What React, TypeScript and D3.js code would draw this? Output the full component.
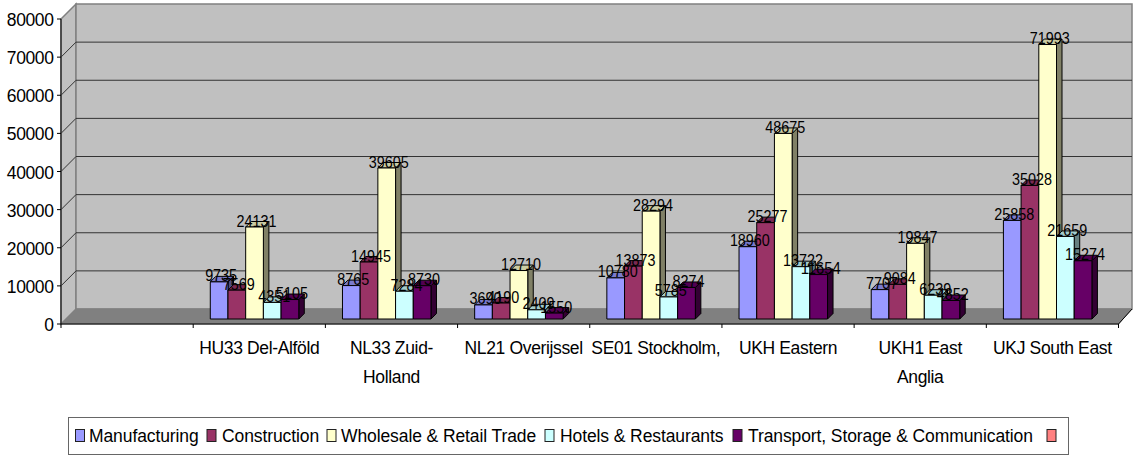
import React from "react";
import * as d3 from "d3";

const categories = ["", "HU33 Del-Alföld", "NL33 Zuid-Holland", "NL21 Overijssel", "SE01 Stockholm,", "UKH Eastern", "UKH1 East Anglia", "UKJ South East"];
const seriesNames = ["Manufacturing", "Construction", "Wholesale & Retail Trade", "Hotels & Restaurants", "Transport, Storage & Communication", ""];
const fills = ["#9999ff", "#993366", "#ffffcc", "#ccffff", "#660066", "#ff8080"];
const manufacturing = [null, 9735, 8765, 3690, 10780, 18960, 7707, 25858];
const construction = [null, 7569, 14945, 4190, 13873, 25277, 9084, 35028];
const wholesale = [null, 24131, 39605, 12710, 28294, 48675, 19847, 71993];
const hotels = [null, 4351, 7284, 2409, 5785, 13722, 6239, 21659];
const transport = [null, 5105, 8730, 1550, 8274, 11654, 4852, 15274];
const series = [manufacturing, construction, wholesale, hotels, transport];
const yTicks = d3.range(0, 80001, 10000);

// category label lines, the wrapped ones as in the picture
const labelLines: Record<string, string[]> = {
    "NL33 Zuid-Holland": ["NL33 Zuid-", "Holland"],
    "UKH1 East Anglia": ["UKH1 East", "Anglia"],
};

const FONT = "Liberation Sans, Arial, sans-serif";
const FONT_SIZE = 17.5;
const left = 61;
const right = 1118.5;
const wallRight = 1132;
const bottom = 324;
const top = 19;
const depth = 15;
const barDepth = 5.5;
const barInset = 5;

const x = d3.scaleBand<string>().domain(categories).range([left, right]);
const inner = d3.scaleBand<number>().domain(d3.range(5)).range([0, 88.5]);
const y = d3.scaleLinear([0, 80000], [bottom, top]);

const shade = (c: string, k: number) => {
    const { r, g, b } = d3.rgb(c);
    return d3.rgb(r * k, g * k, b * k).formatHex();
};

const Bar: React.FC<{ x0: number; value: number; fill: string }> = ({ x0, value, fill }) => {
    const w = inner.bandwidth();
    const base = bottom - barInset;
    const t = base - (bottom - y(value));
    const d = barDepth;
    return (
        <g stroke="#000" strokeWidth={1} strokeLinejoin="round">
            <path d={`M${x0 + w},${t}L${x0 + w + d},${t - d}V${base - d}L${x0 + w},${base}Z`} fill={shade(fill, 0.5)} />
            <path d={`M${x0},${t}L${x0 + d},${t - d}H${x0 + w + d}L${x0 + w},${t}Z`} fill={shade(fill, 0.8)} />
            <rect x={x0} y={t} width={w} height={base - t} fill={fill} />
        </g>
    );
};

const legendSwatchX = [75.5, 207, 327, 545, 733, 1047];
const legendTextX = [89, 222, 341, 560, 748];

export default function App() {
    return (
        <svg
            width={1133}
            height={455}
            style={{ position: "absolute", top: 0, left: 0, background: "#fff" }}
            fontFamily={FONT}
            fontSize={FONT_SIZE}
        >
            {/* walls and floor */}
            <path d={`M${left},${top}L${left + depth},${top - depth}V${bottom - depth}L${left},${bottom}Z`} fill="#c0c0c0" stroke="#808080" strokeWidth={1.5} />
            <rect x={left + depth} y={top - depth} width={wallRight - left - depth} height={bottom - top} fill="#c0c0c0" stroke="#808080" strokeWidth={1.5} />
            <path d={`M${left},${bottom}L${left + depth},${bottom - depth}H${wallRight}L${right},${bottom}Z`} fill="#808080" stroke="#808080" />
            {yTicks.slice(1, -1).map((t) => (
                <g key={t} stroke="#333" strokeWidth={1}>
                    <line x1={left} y1={y(t)} x2={left + depth} y2={y(t) - depth} />
                    <line x1={left + depth} y1={y(t) - depth} x2={wallRight} y2={y(t) - depth} />
                </g>
            ))}
            <line x1={right} y1={bottom} x2={wallRight} y2={bottom - depth} stroke="#000" />

            {/* axes */}
            <line x1={left} y1={top} x2={left} y2={bottom} stroke="#333" strokeWidth={1.5} />
            <line x1={left} y1={bottom} x2={right} y2={bottom} stroke="#000" strokeWidth={1} />
            {yTicks.map((t) => (
                <g key={t}>
                    <line x1={left - 4} y1={y(t)} x2={left} y2={y(t)} stroke="#000" />
                    <text x={53.5} y={y(t) + 7} textAnchor="end" fill="#000" style={{ letterSpacing: -0.4 }}>
                        {t}
                    </text>
                </g>
            ))}
            {categories.map((c, i) => (
                <line key={i} x1={x(c)!} y1={bottom} x2={x(c)!} y2={bottom + 4} stroke="#000" />
            ))}
            <line x1={right} y1={bottom} x2={right} y2={bottom + 4} stroke="#000" />

            {/* bars */}
            {categories.map((c, i) =>
                i === 0 ? null : (
                    <g key={c}>
                        {series.map((s, j) => (
                            <Bar
                                key={j}
                                x0={x(c)! + x.bandwidth() / 2 - 44 + inner(j)! - barInset}
                                value={s[i] as number}
                                fill={fills[j]}
                            />
                        ))}
                    </g>
                )
            )}
            {/* data labels are squeezed sideways in the original */}
            {categories.map((c, i) =>
                i === 0
                    ? null
                    : series.map((s, j) => (
                          <text
                              key={`${c}-${j}`}
                              x={x(c)! + x.bandwidth() / 2 - 44 + inner(j)! - barInset + inner.bandwidth() / 2 + 2}
                              y={bottom - barInset - (bottom - y(s[i] as number)) - 0.5}
                              textAnchor="middle"
                              fontSize={17}
                              textLength={String(s[i]).length * 8}
                              lengthAdjust="spacingAndGlyphs"
                              fill="#000"
                          >
                              {s[i]}
                          </text>
                      ))
            )}

            {/* category labels */}
            {categories.map((c) =>
                (labelLines[c] ?? [c]).map((line, k) => (
                    <text
                        key={`${c}-${k}`}
                        x={x(c)! + x.bandwidth() / 2}
                        y={354 + k * 29}
                        textAnchor="middle"
                        fill="#000"
                        style={{ letterSpacing: -0.35 }}
                    >
                        {line}
                    </text>
                ))
            )}

            {/* legend */}
            <rect x={68.5} y={417.5} width={1000} height={37} fill="#fff" stroke="#666" />
            {seriesNames.map((name, i) => (
                <g key={i}>
                    <rect x={legendSwatchX[i]} y={429.5} width={9} height={12} fill={fills[i]} stroke="#222" strokeWidth={1} />
                    {name && (
                        <text x={legendTextX[i]} y={441.5} fill="#000" style={{ letterSpacing: -0.1 }}>
                            {name}
                        </text>
                    )}
                </g>
            ))}
        </svg>
    );
}
